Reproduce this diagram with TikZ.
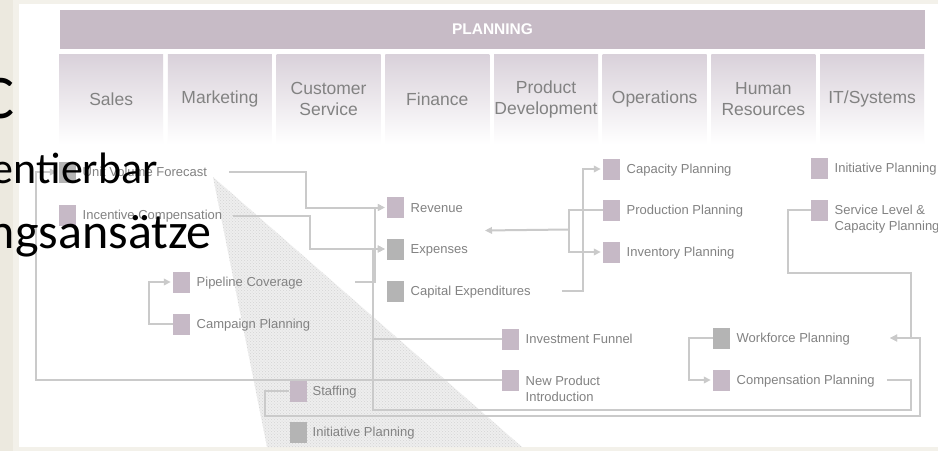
\documentclass[tikz,border=0pt]{standalone}
\usepackage{fontspec}
\setmainfont{Liberation Sans}
\newfontfamily\slidefont{Carlito}
\usetikzlibrary{arrows.meta,positioning,patterns}

\definecolor{cream}{HTML}{F3F1EA}
\definecolor{creamdark}{HTML}{ECE9DF}
\definecolor{barmauve}{HTML}{C7BBC6}
\definecolor{boxtop}{HTML}{D9D1DA}
\definecolor{greytext}{HTML}{828282}
\definecolor{wiregrey}{HTML}{CACACA}
\definecolor{sqmauve}{HTML}{C6B9C6}
\definecolor{sqgrey}{HTML}{B4B4B4}
\definecolor{wedge}{HTML}{EEEEEE}
\definecolor{wedgedots}{HTML}{D4D4D4}

\begin{document}
\begin{tikzpicture}[x=1pt,y=-1pt,
    dept/.style={minimum width=104pt,minimum height=90pt,inner sep=0pt,top color=boxtop,bottom color=white,text=greytext,align=center,font=\fontsize{17.5}{21}\selectfont},
    sq/.style={fill=sqmauve,minimum width=17pt,minimum height=21pt,inner sep=0pt},
    sqg/.style={sq,fill=sqgrey},
    lbl/.style={anchor=base west,inner sep=0pt,text=greytext,align=left,font=\fontsize{13}{16}\selectfont},
    wire/.style={draw=wiregrey,line width=2pt},
    arr/.style={wire,-{Triangle[length=7pt,width=6.5pt]},shorten >=2pt},
    big/.style={anchor=base east,inner sep=0pt,text=black,font=\slidefont\fontsize{44}{50}\selectfont}
  ]

  % page and slide background
  \useasboundingbox (0,0) rectangle (938,451);
  \fill[cream] (0,0) rectangle (938,451);
  \fill[creamdark] (0,0) rectangle (13,451);
  \fill[white] (19,4) rectangle (938,447);
  \fill[wedge] (213,177) -- (267,447) -- (522,447) -- cycle;
  \fill[pattern=crosshatch dots,pattern color=wedgedots] (213,177) -- (267,447) -- (522,447) -- cycle;

  % header
  \node[fill=barmauve,minimum width=865pt,minimum height=39pt,inner sep=0pt,text=white,font=\bfseries\fontsize{15.5}{18}\selectfont] (plan) at (492.5,29.5) {PLANNING};

  \node[dept,anchor=north west] (sales) at (59,54) {Sales};
  \node[dept,right=4.3pt of sales] (mkt) {Marketing};
  \node[dept,right=4.3pt of mkt] (cust) {Customer\\Service};
  \node[dept,right=4.3pt of cust] (fin) {Finance};
  \node[dept,right=4.3pt of fin] (prod) {Product\\Development};
  \node[dept,right=4.3pt of prod] (ops) {Operations};
  \node[dept,right=4.3pt of ops] (hr) {Human\\Resources};
  \node[dept,right=4.3pt of hr] (it) {IT/Systems};

  % planning items
  \node[sqg] (uvf) at (67.5,172) {};
  \node[lbl] (uvft) at (82.5,176.5) {Unit Volume Forecast};
  \node[sq] (inc) at (67.5,215) {};
  \node[lbl] (inct) at (82.5,219.5) {Incentive Compensation};
  \node[sq] (pipe) at (181.5,282) {};
  \node[lbl] (pipet) at (196.5,286.5) {Pipeline Coverage};
  \node[sq] (camp) at (181.5,324) {};
  \node[lbl] (campt) at (196.5,328.5) {Campaign Planning};
  \node[sq] (staff) at (298,391) {};
  \node[lbl] (stafft) at (312.5,395.5) {Staffing};
  \node[sqg] (initb) at (298,432) {};
  \node[lbl] (initbt) at (312.5,436.5) {Initiative Planning};

  \node[sq] (rev) at (395.5,207.5) {};
  \node[lbl] (revt) at (410.5,212) {Revenue};
  \node[sqg] (exp) at (395.5,249) {};
  \node[lbl] (expt) at (410.5,253.5) {Expenses};
  \node[sqg] (capex) at (395.5,291) {};
  \node[lbl] (capext) at (410.5,295.5) {Capital Expenditures};
  \node[sq] (ifun) at (510.5,339) {};
  \node[lbl] (ifunt) at (525.5,343.5) {Investment Funnel};
  \node[sq] (npi) at (510.5,380) {};
  \node[lbl] (npit) at (525.5,401) {New Product\\Introduction};

  \node[sq] (cap) at (611.5,169) {};
  \node[lbl] (capt) at (626.5,173.5) {Capacity Planning};
  \node[sq] (prodp) at (611.5,210) {};
  \node[lbl] (prodpt) at (626.5,214.5) {Production Planning};
  \node[sq] (inv) at (611.5,252) {};
  \node[lbl] (invt) at (626.5,256.5) {Inventory Planning};

  \node[sq] (initt) at (819.5,168) {};
  \node[lbl] (initt t) at (834.5,172.5) {Initiative Planning};
  \node[sq] (svc) at (819.5,210) {};
  \node[lbl] (svct) at (834.5,230) {Service Level \&\\Capacity Planning};
  \node[sqg] (wf) at (721.5,338) {};
  \node[lbl] (wft) at (736.5,342.5) {Workforce Planning};
  \node[sq] (comp) at (721.5,380) {};
  \node[lbl] (compt) at (736.5,384.5) {Compensation Planning};

  % connectors
  \coordinate (prodsplit) at (569,229.5);
  \coordinate (finend) at (483,230.5);
  \coordinate (wfend) at (888,338);
  \draw[arr] ([xshift=22pt]uvft.east) -- ++(77,0) |- (rev);
  \draw[arr] ([xshift=10.5pt]inct.east) -- ++(77,0) |- (exp);
  \draw[arr] ([xshift=52pt]pipet.east |- pipe) -- ++(19.5,0) |- (rev);
  \draw[arr] (camp.west) -- ++(-24,0) |- (pipe);
  \draw[arr] ([xshift=31pt]capext.east |- capex) -- ++(21,0) |- (cap);
  \draw[arr] (prodp.west) -- ++(-34,0) |- (inv);
  \draw[arr] (prodsplit) -- (finend);
  \draw[arr] (wf.west) -- ++(-24,0) |- (comp);
  \draw[arr] (svc.west) -| (788,273) -| (911,338) -- (wfend);
  \draw[arr] (staff.west) -| (265,416) -| (920,338) -- (wfend);
  \draw[arr] ([xshift=12pt]compt.east |- comp) -| (911,410) -| (373,249) -- (exp);
  \draw[arr] (ifun.west) -| (373,249) -- (exp);
  \draw[arr] (npi.west) -| ([xshift=-23pt]uvf.west) -- (uvf.west);

  % slide text in front
  \node[big,font=\slidefont\fontsize{62}{70}\selectfont] (ctext) at (15,118) {C};
  \node[big] (lineone) at (158,183) {entierbar};
  \node[big,font=\slidefont\fontsize{50}{56}\selectfont] (linetwo) at (212,248) {ngsansätze};
\end{tikzpicture}
\end{document}
